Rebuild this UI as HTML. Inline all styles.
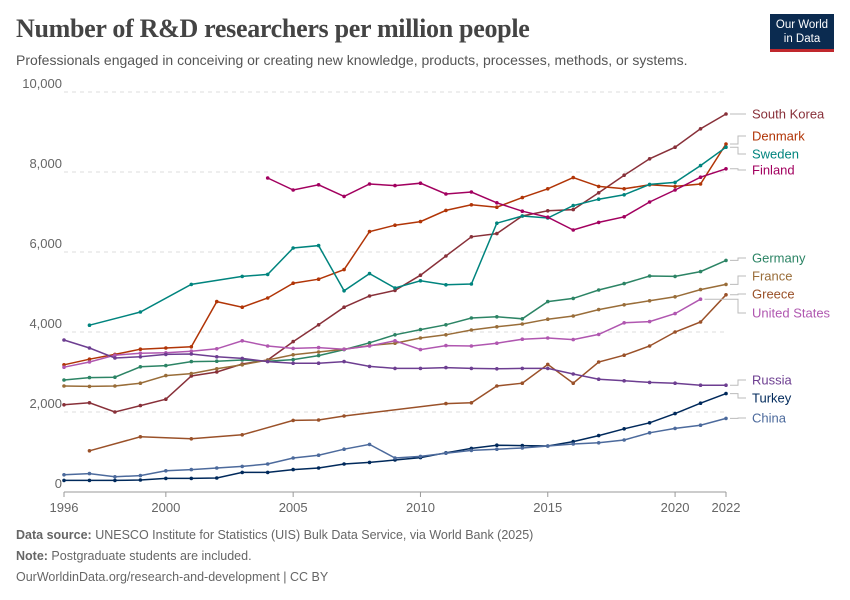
<!DOCTYPE html>
<html><head><meta charset="utf-8"><style>
body{margin:0;background:#fff;font-family:"Liberation Sans",sans-serif;}
#wrap{position:relative;width:850px;height:600px;overflow:hidden;}
h1{position:absolute;left:16px;top:14px;margin:0;font-family:"Liberation Serif",serif;font-size:26px;font-weight:bold;color:#444;letter-spacing:-0.3px}
.sub{position:absolute;left:16px;top:52px;font-size:14px;color:#555}
.logo{position:absolute;left:770px;top:14px;width:64px;height:38px;background:#0b2b50;color:#fff;font-size:11.5px;text-align:center;line-height:14px;padding-top:4px;box-sizing:border-box;border-bottom:3px solid #c0282d}
.foot{position:absolute;left:16px;font-size:12.5px;color:#666}
</style></head><body><div id="wrap">
<h1>Number of R&amp;D researchers per million people</h1>
<div class="sub">Professionals engaged in conceiving or creating new knowledge, products, processes, methods, or systems.</div>
<div class="logo">Our World<br>in Data</div>
<svg id="c" width="850" height="600" style="position:absolute;left:0;top:0"></svg>
<div class="foot" style="top:528px"><b>Data source:</b> UNESCO Institute for Statistics (UIS) Bulk Data Service, via World Bank (2025)</div>
<div class="foot" style="top:549px"><b>Note:</b> Postgraduate students are included.</div>
<div class="foot" style="top:570px">OurWorldinData.org/research-and-development | CC BY</div>
</div>
<script>
const yTicks=[0,2000,4000,6000,8000,10000];
const xTicks=[1996,2000,2005,2010,2015,2020,2022];
const names=["South Korea","Denmark","Sweden","Finland","Germany","France","Greece","United States","Russia","Turkey","China"];
const colors=["#883039","#b13507","#00847e","#a2005f","#2c8465","#996d39","#9a5129","#b057b0","#6d3e91","#00295b","#4c6a9c"];
const labelY=[114,136,154,170,258,276,294,313,380,398,418];
const years=[1996,1997,1998,1999,2000,2001,2002,2003,2004,2005,2006,2007,2008,2009,2010,2011,2012,2013,2014,2015,2016,2017,2018,2019,2020,2021,2022];
const skorea=[2180,2230,2000,2160,2320,2900,3000,3200,3300,3760,4180,4620,4900,5040,5420,5900,6380,6460,6900,7030,7060,7480,7920,8330,8620,9080,9450];
const denmark=[3180,3320,3440,3570,3600,3630,4760,4620,4850,5220,5320,5560,6510,6670,6760,7040,7180,7120,7360,7580,7860,7640,7580,7680,7640,7700,8700];
const sweden=[null,4170,null,4500,null,5190,null,5390,5440,6100,6160,5030,5460,5100,5280,5180,5200,6720,6900,6850,7160,7320,7430,7690,7740,8160,8620];
const finland=[null,null,null,null,null,null,null,null,7850,7550,7680,7390,7700,7660,7720,7450,7500,7230,7020,6870,6550,6740,6880,7250,7550,7870,8080];
const germany=[2800,2860,2870,3130,3160,3260,3270,3300,3270,3310,3410,3560,3730,3930,4060,4180,4350,4380,4330,4760,4840,5050,5210,5400,5390,5510,5790];
const france=[2650,2640,2650,2720,2910,2960,3080,3180,3300,3430,3500,3570,3660,3720,3850,3930,4050,4130,4200,4320,4400,4560,4680,4780,4880,5060,5190];
const greece=[null,1030,null,1380,null,1330,null,1430,null,1790,1800,1900,null,null,null,2210,2230,2650,2720,3190,2720,3250,3420,3650,4000,4250,4930];
const usa=[3120,3250,3420,3470,3480,3520,3580,3780,3650,3590,3610,3570,3650,3780,3560,3660,3650,3720,3820,3850,3810,3940,4230,4260,4460,4820,null];
const russia=[3800,3600,3350,3380,3440,3450,3380,3340,3260,3220,3220,3260,3140,3090,3090,3110,3090,3080,3090,3090,2950,2820,2780,2740,2720,2670,2670];
const turkey=[290,290,290,300,340,340,350,490,490,560,600,700,740,800,860,980,1090,1170,1160,1150,1260,1410,1580,1730,1960,2220,2460];
const china=[430,460,380,410,530,560,600,640,700,850,920,1070,1190,850,890,970,1040,1070,1100,1150,1200,1230,1300,1480,1590,1670,1840];
const series=[skorea,denmark,sweden,finland,germany,france,greece,usa,russia,turkey,china];
const X=y=>64+(y-1996)*(726-64)/26;
const Y=v=>492-v*0.04;
const svg=document.getElementById('c');const NS="http://www.w3.org/2000/svg";
function mk(t,a,p){const e=document.createElementNS(NS,t);for(const k in a)e.setAttribute(k,a[k]);(p||svg).appendChild(e);return e;}
yTicks.forEach(v=>{
 const l=mk('line',{x1:64,x2:726,y1:Y(v),y2:Y(v),stroke:v?'#ddd':'#999','stroke-dasharray':v?'4,4':''});
 
 
 const t=mk('text',{x:62,y:Y(v)-4,'text-anchor':'end','font-size':13,fill:'#666'});t.textContent=v.toLocaleString('en-US');
 
 
});
xTicks.forEach(v=>{
 const l=mk('line',{x1:X(v),x2:X(v),y1:492,y2:497,stroke:'#999'});
 
 
 const t=mk('text',{x:X(v),y:512,'text-anchor':'middle','font-size':13,fill:'#666'});t.textContent=v;
 
 
});
series.forEach((s,i)=>{
 const g=mk('g',{});
 
 
 let d='',pen=false,last=null;
 s.forEach((v,j)=>{if(v==null)return;d+=(pen?'L':'M')+X(years[j]).toFixed(1)+','+Y(v).toFixed(1);pen=true;last=[X(years[j]),Y(v)];});
 mk('path',{d:d,fill:'none',stroke:colors[i],'stroke-width':1.5},g);
 s.forEach((v,j)=>{if(v==null)return;const c=mk('circle',{cx:X(years[j]),cy:Y(v),r:1.8,fill:colors[i]},g);
  
  });
 mk('path',{d:`M${last[0]+4},${last[1]}H738V${labelY[i]}H746`,fill:'none',stroke:'#bbb'},g);
 const t=mk('text',{x:752,y:labelY[i]+4.5,'font-size':13,fill:colors[i]},g);t.textContent=names[i];
 
 
});
</script></body></html>
